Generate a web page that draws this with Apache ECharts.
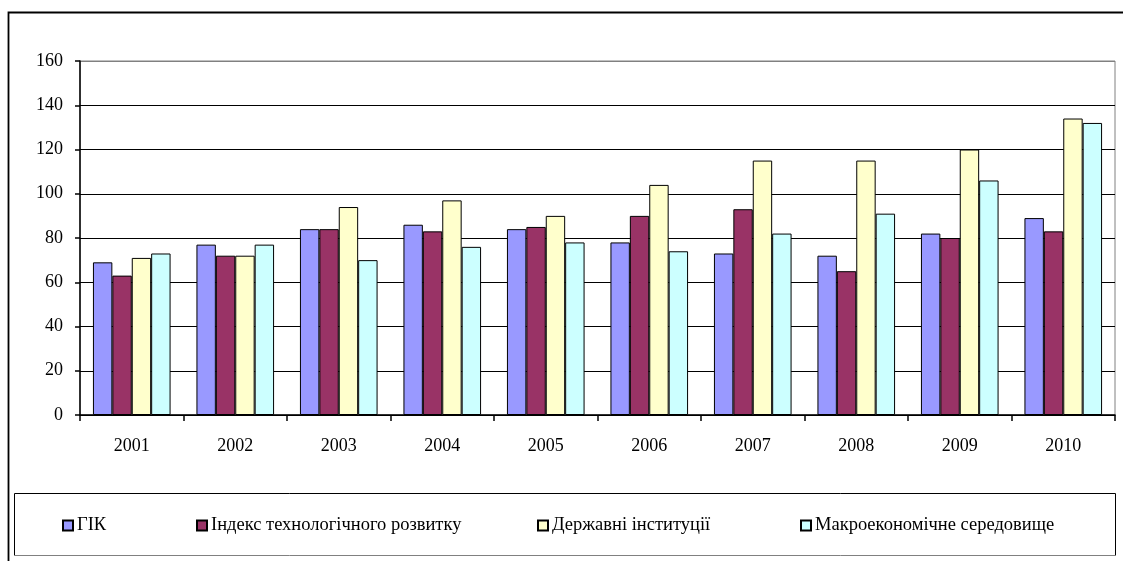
<!DOCTYPE html>
<html><head><meta charset="utf-8">
<script src="https://cdn.jsdelivr.net/npm/echarts@6/dist/echarts.min.js"></script>
<style>html,body{margin:0;padding:0;background:#fff}#c{width:1123px;height:561px}</style>
</head><body><div id="c"></div>
<script>
var categories = ['2001','2002','2003','2004','2005','2006','2007','2008','2009','2010'];
var seriesNames = ['ГІК','Індекс технологічного розвитку','Державні інституції','Макроекономічне середовище'];
var gik   = [69, 77, 84, 86, 84, 78, 73, 72, 82, 89];
var tech  = [63, 72, 84, 83, 85, 90, 93, 65, 80, 83];
var inst  = [71, 72, 94, 97, 90, 104, 115, 115, 120, 134];
var macro = [73, 77, 70, 76, 78, 74, 82, 91, 106, 132];
var yTicks = [0, 160, 20];
var colors = ['#9999FF', '#993366', '#FFFFCC', '#CCFFFF'];

var chart = echarts.init(document.getElementById('c'));
var font = '"Liberation Serif", "Times New Roman", serif';
var data = [gik, tech, inst, macro];
var legendLeft = [57, 191, 532, 795];
chart.setOption({
  animation: false,
  textStyle: {fontFamily: font},
  graphic: [
    {type: 'rect', shape: {x: 8.5, y: 12.5, width: 1130, height: 600}, style: {fill: 'none', stroke: '#000', lineWidth: 1.8}, z: -1},
    {type: 'line', shape: {x1: 14.5, y1: 493.5, x2: 1115.5, y2: 493.5}, style: {stroke: '#000', lineWidth: 1}, z: -1},
    {type: 'line', shape: {x1: 14.5, y1: 493.5, x2: 14.5, y2: 555.5}, style: {stroke: '#000', lineWidth: 1}, z: -1},
    {type: 'line', shape: {x1: 1115.5, y1: 493.5, x2: 1115.5, y2: 555.5}, style: {stroke: '#000', lineWidth: 1}, z: -1},
    {type: 'line', shape: {x1: 14.5, y1: 555.5, x2: 1115.5, y2: 555.5}, style: {stroke: '#808080', lineWidth: 1}, z: -1}
  ],
  grid: {left: 80, right: 8, top: 61, bottom: 146, show: true, borderColor: '#808080', borderWidth: 1},
  legend: seriesNames.map(function(n, i){
    return {
      left: legendLeft[i], top: 511, itemWidth: 10, itemHeight: 10,
      textStyle: {fontFamily: font, fontSize: 18.5, color: '#000', padding: [0,0,0,-1]},
      data: [{name: n, icon: 'rect'}]
    };
  }),
  xAxis: {
    type: 'category', data: categories,
    axisLine: {lineStyle: {color: '#000', width: 1.5}},
    axisTick: {show: true, length: 6, lineStyle: {color: '#000', width: 1.5}},
    axisLabel: {color: '#000', fontSize: 18, margin: 22, fontFamily: font}
  },
  yAxis: {
    type: 'value', min: yTicks[0], max: yTicks[1], interval: yTicks[2],
    axisLine: {show: true, lineStyle: {color: '#000', width: 1.5}},
    axisTick: {show: true, length: 5, lineStyle: {color: '#000', width: 1.5}},
    axisLabel: {color: '#000', fontSize: 18, margin: 17, fontFamily: font},
    splitLine: {lineStyle: {color: ['#000','#000','#000','#000','#000','#000','#000','#000','#808080'], width: 1.2}}
  },
  series: seriesNames.map(function(n, i){
    return {
      name: n, type: 'bar', data: data[i],
      barGap: '0%', barCategoryGap: '25%',
      itemStyle: {color: colors[i], borderColor: '#000', borderWidth: 1}
    };
  })
});
</script></body></html>
